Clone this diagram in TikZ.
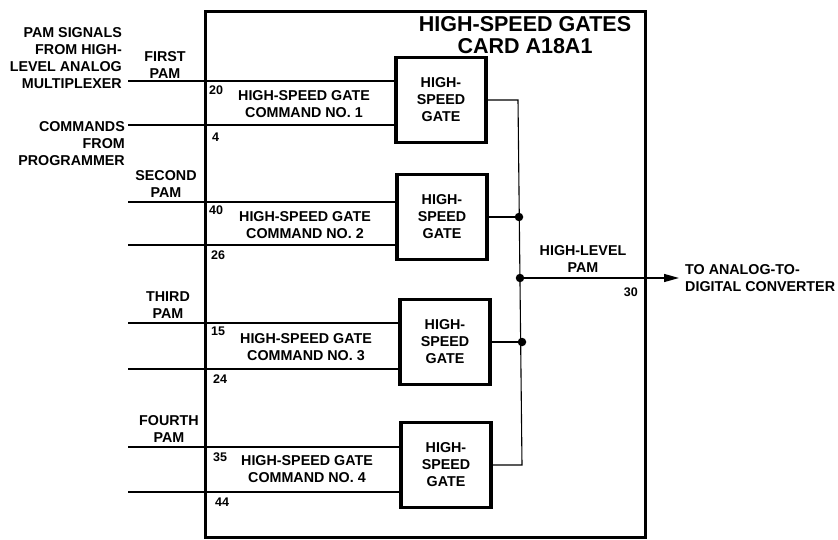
\documentclass[tikz,border=0pt]{standalone}
\usepackage{fontspec}
\setmainfont{Liberation Sans}
\usetikzlibrary{arrows.meta}
\begin{document}
\begin{tikzpicture}[x=1pt,y=-1pt,
  lbl/.style={font=\fontsize{14.3}{17}\selectfont\bfseries, inner sep=0pt, align=center},
  lblr/.style={lbl, align=right, anchor=east},
  lbll/.style={lbl, align=left, anchor=west},
  pin/.style={font=\fontsize{12.5}{14}\selectfont\bfseries, inner sep=0pt, anchor=west},
  title/.style={font=\fontsize{21.5}{22}\selectfont\bfseries, inner sep=0pt, align=center},
  cardbox/.style={draw, line width=3pt, minimum width=440pt, minimum height=525pt, inner sep=0pt},
  gatebox/.style={draw, line width=3.5pt, minimum width=90pt, minimum height=85pt, inner sep=0pt,
     font=\fontsize{14.3}{17}\selectfont\bfseries, align=center, fill=white},
  sig/.style={line width=1.4pt},
  bus/.style={line width=1.1pt},
  dotj/.style={circle, fill=black, inner sep=0pt, minimum size=8.5pt},
]
\useasboundingbox (0,0) rectangle (838,540);

% card
\node[cardbox] (card) at (425,274.5) {};
\node[title] (ttl) at (525,35.5) {HIGH-SPEED GATES\\CARD A18A1};

% gates
\node[gatebox] (g1) at (441,100) {HIGH-\\SPEED\\GATE};
\node[gatebox] (g2) at (442,217) {HIGH-\\SPEED\\GATE};
\node[gatebox] (g3) at (445,342) {HIGH-\\SPEED\\GATE};
\node[gatebox] (g4) at (446,465) {HIGH-\\SPEED\\GATE};

% input free ends
\coordinate (p1) at (128,81);  \coordinate (c1) at (128,125);
\coordinate (p2) at (128,202); \coordinate (c2) at (128,245);
\coordinate (p3) at (128,323); \coordinate (c3) at (128,369);
\coordinate (p4) at (128,447); \coordinate (c4) at (128,492);

\draw[sig] (p1) -- (p1 -| g1.west);
\draw[sig] (c1) -- (c1 -| g1.west);
\draw[sig] (p2) -- (p2 -| g2.west);
\draw[sig] (c2) -- (c2 -| g2.west);
\draw[sig] (p3) -- (p3 -| g3.west);
\draw[sig] (c3) -- (c3 -| g3.west);
\draw[sig] (p4) -- (p4 -| g4.west);
\draw[sig] (c4) -- (c4 -| g4.west);

% left labels
\node[lblr] (srcpam) at (122,58.5) {PAM SIGNALS\\FROM HIGH-\\LEVEL ANALOG\\MULTIPLEXER};
\node[lblr] (srccmd) at (125,144) {COMMANDS\\FROM\\PROGRAMMER};
\node[lbl] (l1) at (165,65.5) {FIRST\\PAM};
\node[lbl] (l2) at (166,184.5) {SECOND\\PAM};
\node[lbl] (l3) at (168,305) {THIRD\\PAM};
\node[lbl] (l4) at (169,429) {FOURTH\\PAM};

% command labels
\node[lbl] (k1) at (304,104.5) {HIGH-SPEED GATE\\COMMAND NO. 1};
\node[lbl] (k2) at (305,225.5) {HIGH-SPEED GATE\\COMMAND NO. 2};
\node[lbl] (k3) at (306,347.5) {HIGH-SPEED GATE\\COMMAND NO. 3};
\node[lbl] (k4) at (307,469) {HIGH-SPEED GATE\\COMMAND NO. 4};

% pin numbers
\node[pin] (n20) at (209,90) {20};
\node[pin] (n4)  at (212,137) {4};
\node[pin] (n40) at (209,210) {40};
\node[pin] (n26) at (211,255) {26};
\node[pin] (n15) at (211,331) {15};
\node[pin] (n24) at (213,379) {24};
\node[pin] (n35) at (213,457) {35};
\node[pin] (n44) at (215,502) {44};

% output bus
\coordinate (b1) at (518,100);
\coordinate (b4) at (522,465);
\node[dotj] (b2) at (519,217) {};
\node[dotj] (b3) at (522,342) {};
\node[dotj] (bo) at (520,278) {};
\coordinate (out) at (679,278);

\draw[bus] (g1.east) -- (b1) -- (b4) -- (g4.east);
\draw[bus] (g2.east) -- (b2.center);
\draw[bus] (g3.east) -- (b3.center);
\draw[sig, -{Triangle[length=15pt,width=8pt]}] (bo.center) -- (out);

\node[lbl] (hl) at (583,259) {HIGH-LEVEL\\PAM};
\node[pin, anchor=east] (n30) at (638,292) {30};
\node[lbll] (dst) at (685,278) {TO ANALOG-TO-\\DIGITAL CONVERTER};
\end{tikzpicture}
\end{document}
